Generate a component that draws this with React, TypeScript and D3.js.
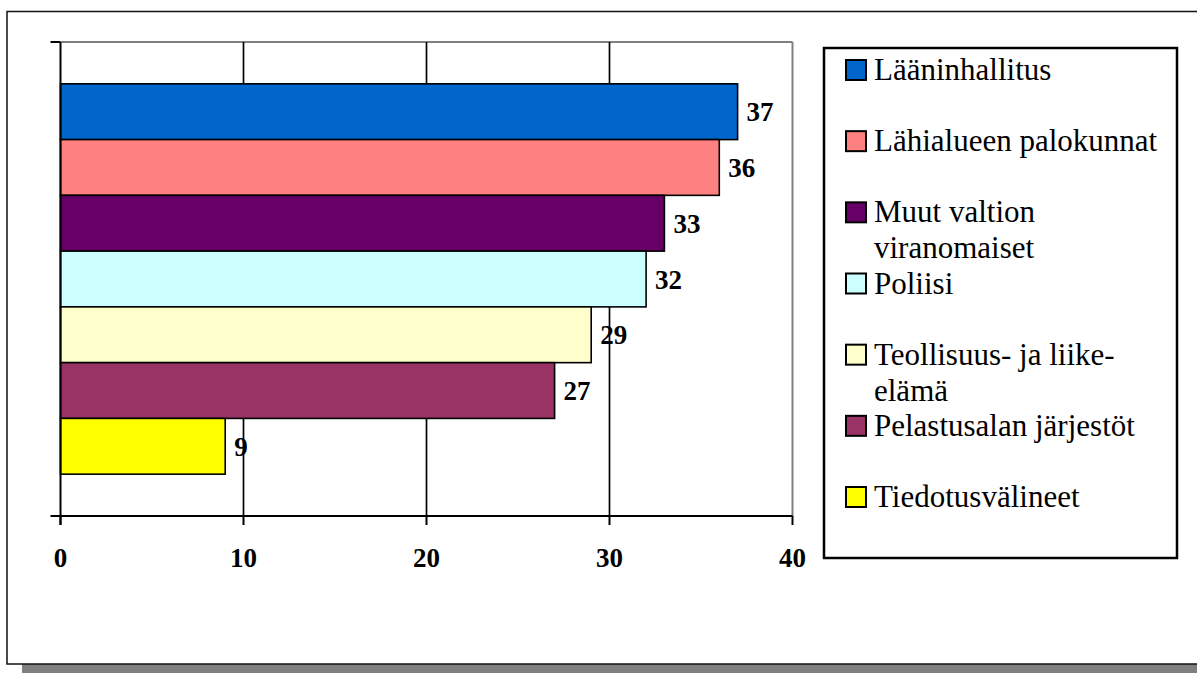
import React from 'react';
import * as d3 from 'd3';

// Series (one bar each)
const seriesNames = [
  'Lääninhallitus',
  'Lähialueen palokunnat',
  'Muut valtion viranomaiset',
  'Poliisi',
  'Teollisuus- ja liike-elämä',
  'Pelastusalan järjestöt',
  'Tiedotusvälineet',
];
const seriesValues = [37, 36, 33, 32, 29, 27, 9];
const seriesColors = ['#0066CC', '#FF8080', '#660066', '#CCFFFF', '#FFFFCC', '#993366', '#FFFF00'];
// legend text as wrapped in the original
const legendLines = [
  ['Lääninhallitus'],
  ['Lähialueen palokunnat'],
  ['Muut valtion', 'viranomaiset'],
  ['Poliisi'],
  ['Teollisuus- ja liike-', 'elämä'],
  ['Pelastusalan järjestöt'],
  ['Tiedotusvälineet'],
];
const xTicks = [0, 10, 20, 30, 40];

const font = '"Liberation Serif"';

const App = () => {
  const width = 1197;
  const height = 673;

  const plot = { left: 60.5, right: 792.5, top: 42, bottom: 516 };

  const x = d3.scaleLinear().domain([0, 40]).range([plot.left, plot.right]);
  const y = d3
    .scaleBand<string>()
    .domain(seriesNames)
    .range([plot.top, plot.bottom])
    .paddingInner(0)
    .paddingOuter(0.75);

  const legend = { x: 824, y: 48, w: 353, h: 510 };
  const legendY = d3.scalePoint<string>().domain(seriesNames).range([70, 497]);

  return (
    <svg
      width={width}
      height={height}
      style={{ position: 'absolute', left: 0, top: 0, background: '#fff', fontFamily: font }}
    >
      {/* chart frame with shadow */}
      <rect x={22} y={19} width={width} height={654} fill="#808080" />
      <rect x={7} y={11.5} width={width} height={652.5} fill="#fff" stroke="#111" strokeWidth={1.5} />

      {/* plot area border (gray top and right) */}
      <line x1={plot.left} x2={plot.right} y1={plot.top} y2={plot.top} stroke="#808080" strokeWidth={2} />
      <line x1={plot.right} x2={plot.right} y1={plot.top} y2={plot.bottom} stroke="#808080" strokeWidth={2} />

      {/* gridlines */}
      {xTicks.slice(1, -1).map(t => (
        <line key={t} x1={x(t)} x2={x(t)} y1={plot.top} y2={plot.bottom} stroke="#000" strokeWidth={1.7} />
      ))}

      {/* bars */}
      {seriesNames.map((name, i) => (
        <rect
          key={name}
          x={x(0)}
          y={y(name)}
          width={x(seriesValues[i]) - x(0)}
          height={y.bandwidth()}
          fill={seriesColors[i]}
          stroke="#000"
          strokeWidth={1.6}
        />
      ))}

      {/* value labels */}
      {seriesNames.map((name, i) => (
        <text
          key={name}
          x={x(seriesValues[i]) + 9}
          y={(y(name) ?? 0) + y.bandwidth() / 2 + 9.5}
          fontSize={27}
          fontWeight="bold"
          style={{ fontFamily: font }}
        >
          {seriesValues[i]}
        </text>
      ))}

      {/* axes */}
      <line x1={plot.left} x2={plot.left} y1={plot.top} y2={plot.bottom + 9} stroke="#000" strokeWidth={2} />
      <line x1={plot.left - 10} x2={plot.right} y1={plot.bottom} y2={plot.bottom} stroke="#000" strokeWidth={2} />
      <line x1={plot.left - 10} x2={plot.left} y1={plot.top} y2={plot.top} stroke="#000" strokeWidth={2} />
      {xTicks.map(t => (
        <g key={t}>
          <line x1={x(t)} x2={x(t)} y1={plot.bottom} y2={plot.bottom + 9} stroke="#000" strokeWidth={2} />
          <text x={x(t)} y={567} textAnchor="middle" fontSize={27} fontWeight="bold" style={{ fontFamily: font }}>
            {t}
          </text>
        </g>
      ))}

      {/* legend */}
      <rect x={legend.x} y={legend.y} width={legend.w} height={legend.h} fill="#fff" stroke="#000" strokeWidth={2.5} />
      {seriesNames.map((name, i) => {
        const cy = legendY(name) ?? 0;
        return (
          <g key={name}>
            <rect x={846} y={cy - 10} width={20} height={20} fill={seriesColors[i]} stroke="#000" strokeWidth={2} />
            {legendLines[i].map((line, j) => (
              <text key={j} x={874} y={cy + 10 + j * 36} fontSize={31} style={{ fontFamily: font }}>
                {line}
              </text>
            ))}
          </g>
        );
      })}
    </svg>
  );
};

export default App;
